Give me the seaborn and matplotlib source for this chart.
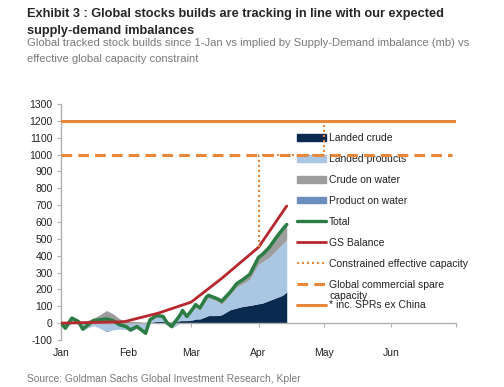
import numpy as np
import pandas as pd
import matplotlib
matplotlib.use('Agg')
import matplotlib.pyplot as plt
from matplotlib.patches import Patch
from matplotlib.lines import Line2D
import seaborn as sns

# Stock build data (mb)
dates = ['2020-01-01', '2020-01-03', '2020-01-06', '2020-01-09', '2020-01-11', '2020-01-13',
         '2020-01-16', '2020-01-19', '2020-01-22', '2020-01-25', '2020-01-28', '2020-01-31',
         '2020-02-02', '2020-02-05', '2020-02-09', '2020-02-11', '2020-02-14', '2020-02-17',
         '2020-02-19', '2020-02-21', '2020-02-25', '2020-02-26', '2020-02-28', '2020-03-02',
         '2020-03-03', '2020-03-05', '2020-03-08', '2020-03-09', '2020-03-13', '2020-03-15',
         '2020-03-19', '2020-03-22', '2020-03-25', '2020-03-28', '2020-04-01', '2020-04-03',
         '2020-04-06', '2020-04-09', '2020-04-12', '2020-04-14']
landed_crude = [0, -5, 0, 0, -5, -5, 0, 0, 0, 0, 0, 0,
                -5, 0, -5, 5, 10, 10, 5, 5, 15, 15, 15, 20,
                25, 25, 40, 45, 45, 50, 80, 90, 100, 105, 115, 120,
                135, 150, 165, 185]
landed_products = [0, -30, 15, -5, -40, -25, -15, -30, -45, -40, -35, -30,
                   -40, -30, -55, 10, 30, 25, -10, -30, 30, 50, 20, 60,
                   70, 55, 100, 105, 85, 60, 90, 125, 135, 155, 235, 245,
                   255, 280, 305, 310]
crude_on_water = [0, 5, 15, 15, 10, 15, 30, 50, 75, 55, 25, 15,
                  10, 10, 5, 5, 5, 5, 5, 5, 5, 10, 5, 10,
                  15, 10, 15, 15, 15, 20, 15, 20, 25, 30, 40, 45,
                  60, 75, 85, 90]
product_on_water = [0, 0, 0, 0, 0, 0, 0, 0, -5, 0, 0, -5,
                    -5, 0, -5, 0, 0, 0, 0, 0, 0, 0, 0, 0,
                    0, 0, 0, 0, 0, 0, 0, 0, 0, 0, 0, 0,
                    0, 0, 0, 0]
total = [0, -30, 30, 10, -35, -15, 15, 20, 25, 15, -10, -20,
         -40, -20, -60, 20, 45, 40, 0, -20, 50, 75, 40, 90,
         110, 90, 155, 165, 145, 130, 185, 235, 260, 290, 390, 410,
         450, 505, 555, 585]

gs_dates = ['2020-01-01', '2020-01-30', '2020-02-15', '2020-03-01', '2020-03-15', '2020-04-01', '2020-04-14']
gs_balance = [0, 8, 60, 125, 265, 450, 695]

cap_dates = ['2020-04-01', '2020-04-01', '2020-05-01', '2020-05-01']
cap_values = [450, 1000, 1000, 1200]

spare_dates = ['2020-01-01', '2020-06-29']
spare_values = [1000, 1000]
spr_dates = ['2020-01-01', '2020-07-01']
spr_values = [1200, 1200]

month_ticks = ['2020-01-01', '2020-02-01', '2020-03-01', '2020-04-01', '2020-05-01', '2020-06-01', '2020-07-01']
month_labels = ['Jan', 'Feb', 'Mar', 'Apr', 'May', 'Jun', '']

area_labels = ['Landed crude', 'Landed products', 'Crude on water', 'Product on water']
area_colors = ['#0b2a4f', '#a9c6e2', '#9d9d9d', '#6d8fbd']

title_lines = ['Exhibit 3 : Global stocks builds are tracking in line with our expected',
               'supply-demand imbalances']
subtitle_lines = ['Global tracked stock builds since 1-Jan vs implied by Supply-Demand imbalance (mb) vs',
                  'effective global capacity constraint']
source_text = 'Source: Goldman Sachs Global Investment Research, Kpler'

ORANGE = '#e8873a'
GREEN = '#2b7d44'
RED = '#b7282e'


def stacked_areas(ax, x, series, colors):
    # Excel-style stacking: positives stack up, negatives stack down
    pos_base = np.zeros(len(x))
    neg_base = np.zeros(len(x))
    for vals, c in zip(series, colors):
        v = np.asarray(vals, dtype=float)
        pos = np.clip(v, 0, None)
        neg = np.clip(v, None, 0)
        ax.fill_between(x, pos_base, pos_base + pos, color=c, lw=0, zorder=2)
        ax.fill_between(x, neg_base, neg_base + neg, color=c, lw=0, zorder=2)
        pos_base += pos
        neg_base += neg


def main():
    sns.set_theme(style='white')
    plt.rcParams['font.family'] = ['Liberation Sans', 'DejaVu Sans']
    plt.rcParams['axes.unicode_minus'] = False

    x = pd.to_datetime(dates)
    df = pd.DataFrame({'date': x, 'total': total})
    gs = pd.DataFrame({'date': pd.to_datetime(gs_dates), 'gs': gs_balance})

    fig = plt.figure(figsize=(5.04, 3.87), dpi=100)
    ax = fig.add_axes([61 / 504, 1 - 340 / 387, (456 - 61) / 504, (340 - 104) / 387])

    stacked_areas(ax, x, [landed_crude, landed_products, crude_on_water, product_on_water], area_colors)
    sns.lineplot(data=df, x='date', y='total', ax=ax, color=GREEN, lw=2.5, zorder=4)
    sns.lineplot(data=gs, x='date', y='gs', ax=ax, color=RED, lw=2.0, zorder=4)
    ax.plot(pd.to_datetime(cap_dates), cap_values, color=ORANGE, lw=1.5, ls=(0, (1, 1.4)), zorder=5)
    ax.plot(pd.to_datetime(spare_dates), spare_values, color=ORANGE, lw=2.2, ls=(0, (3.5, 2)), zorder=5)
    ax.plot(pd.to_datetime(spr_dates), spr_values, color=ORANGE, lw=2.2, zorder=5)

    ax.set_xlim(pd.Timestamp('2020-01-01'), pd.Timestamp('2020-07-01'))
    ax.set_ylim(-100, 1300)
    ax.set_yticks(np.arange(-100, 1301, 100))
    ax.set_xticks(pd.to_datetime(month_ticks))
    ax.set_xticklabels(month_labels)
    ax.set_xlabel('')
    ax.set_ylabel('')

    for s in ['top', 'right']:
        ax.spines[s].set_visible(False)
    ax.spines['bottom'].set_position(('data', 0))
    for s in ['left', 'bottom']:
        ax.spines[s].set_color('#b0b0b0')
        ax.spines[s].set_linewidth(1.0)
        ax.spines[s].set_zorder(3)
    ax.tick_params(axis='y', which='major', left=True, length=3, width=0.8, color='#b0b0b0',
                   labelsize=7.5, labelcolor='#222222', pad=3)
    ax.tick_params(axis='x', which='major', bottom=True, length=3, width=0.8, color='#b0b0b0',
                   labelsize=7.5, labelcolor='#222222', pad=15)
    ax.patch.set_alpha(0)

    handles = [Patch(color=c) for c in area_colors]
    handles += [Line2D([], [], color=GREEN, lw=2.4),
                Line2D([], [], color=RED, lw=2.0),
                Line2D([], [], color=ORANGE, lw=1.5, ls=(0, (1, 1.4))),
                Line2D([], [], color=ORANGE, lw=2.2, ls=(0, (3.5, 2))),
                Line2D([], [], color=ORANGE, lw=2.2)]
    labels = area_labels + ['Total', 'GS Balance', 'Constrained effective capacity',
                            'Global commercial spare', '* inc. SPRs ex China']
    leg = ax.legend(handles, labels, loc='upper left', bbox_to_anchor=(297 / 504, 1 - 133 / 387),
                    bbox_transform=fig.transFigure, frameon=False, fontsize=7.5,
                    handlelength=2.8, handleheight=0.6, handletextpad=0.25,
                    labelspacing=1.05, borderpad=0, borderaxespad=0)
    leg.set_zorder(1)
    for t in leg.get_texts():
        t.set_color('#222222')
    # second line of the wrapped legend label, overlapping the next entry as in the original
    fig.text(329 / 504, 1 - 299 / 387, 'capacity', ha='left', va='baseline', fontsize=7.5,
             color='#222222')

    # heading, subheading and source
    for txt, yb in zip(title_lines, [17.5, 34]):
        fig.text(27 / 504, 1 - yb / 387, txt, ha='left', va='baseline', fontsize=9.2,
                 fontweight='bold', color='#262626')
    for txt, yb in zip(subtitle_lines, [46, 62]):
        fig.text(27 / 504, 1 - yb / 387, txt, ha='left', va='baseline', fontsize=8.1,
                 color='#7a7a7a')
    fig.text(27 / 504, 1 - 382 / 387, source_text, ha='left', va='baseline', fontsize=7.4,
             color='#7a7a7a')

    fig.savefig('out.png', dpi=100)


if __name__ == "__main__":
    main()
